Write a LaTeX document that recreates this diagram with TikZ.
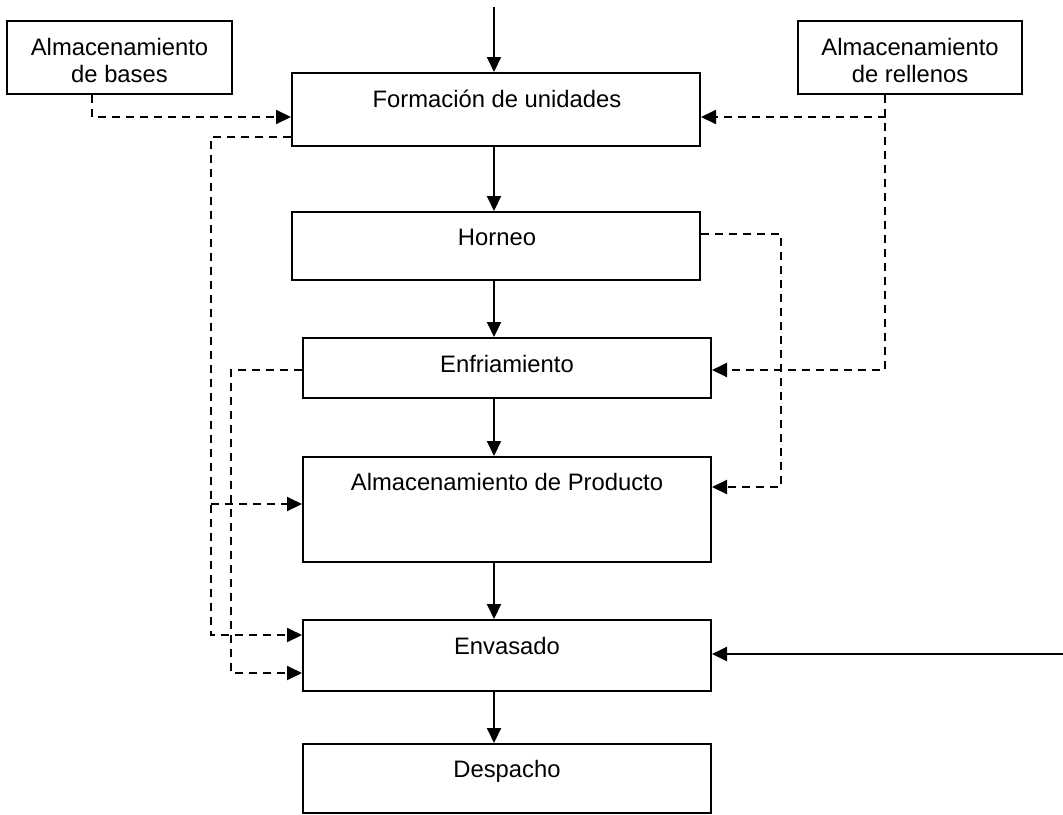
\documentclass[tikz,border=0pt]{standalone}
\usepackage{fontspec}
\setmainfont{Liberation Sans}
\usetikzlibrary{arrows.meta,calc}

\begin{document}
\begin{tikzpicture}[x=0.5pt,y=-0.5pt,
  box/.style={draw,line width=1pt,rectangle,inner sep=0pt},
  txt/.style={anchor=north,inner sep=0pt,align=center,
    font=\fontsize{11.9pt}{13.5pt}\selectfont},
  flow/.style={line width=1pt,-{Triangle[length=7.5pt,width=7pt]}},
  feed/.style={line width=1pt,dash pattern=on 4pt off 3pt,
    -{Triangle[length=7.5pt,width=7pt]}},
  feedline/.style={line width=1pt,dash pattern=on 4pt off 3pt}]

\useasboundingbox (0,0) rectangle (1063,814);

% process boxes
\node[box,minimum width=112.5pt,minimum height=36.5pt] (bases) at (119.5,57.5) {};
\node[box,minimum width=112pt,minimum height=36.5pt] (rell) at (910,57.5) {};
\node[box,minimum width=204pt,minimum height=36.5pt] (form) at (496,109.5) {};
\node[box,minimum width=204pt,minimum height=34pt] (horn) at (496,246) {};
\node[box,minimum width=204pt,minimum height=30pt] (enfr) at (507,368) {};
\node[box,minimum width=204pt,minimum height=52.5pt] (alm) at (507,509.5) {};
\node[box,minimum width=204pt,minimum height=35.5pt] (env) at (507,655.5) {};
\node[box,minimum width=204pt,minimum height=34.5pt] (desp) at (507,778.5) {};

% labels, set near the top of each box
\node[txt] (tbases) at (119.5,38) {Almacenamiento\\de bases};
\node[txt] (trell) at (910,38) {Almacenamiento\\de rellenos};
\node[txt] (tform) at (497,90) {Formación de unidades};
\node[txt] (thorn) at (497,229) {Horneo};
\node[txt] (tenfr) at (507,355) {Enfriamiento};
\node[txt] (talm) at (507,473) {Almacenamiento de Producto};
\node[txt] (tenv) at (507,637) {Envasado};
\node[txt] (tdesp) at (507,760) {Despacho};

% main line of the process
\coordinate (axis) at (494,7);
\coordinate (ein) at (1063,654);
\draw[flow] (axis) -- (form.north -| axis);
\draw[flow] (form.south -| axis) -- (horn.north -| axis);
\draw[flow] (horn.south -| axis) -- (enfr.north -| axis);
\draw[flow] (enfr.south -| axis) -- (alm.north -| axis);
\draw[flow] (alm.south -| axis) -- (env.north -| axis);
\draw[flow] (env.south -| axis) -- (desp.north -| axis);
\draw[flow] (ein) -- (env.east |- ein);

% bases feed
\draw[feed] ($(bases.south)+(-27.5,0)$) |- ($(form.west)+(0,7.5)$);

% fillings feed
\draw[feed] ($(rell.south)+(-25,0)$) |- ($(enfr.east)+(0,2)$);
\draw[feed] ($(form.east)+(185,7.5)$) -- ($(form.east)+(0,7.5)$);

% returns on the left side
\draw[feed] ($(form.west)+(0,27.5)$) -| ($(env.west)+(-91,-20.5)$) -- ($(env.west)+(0,-20.5)$);
\draw[feed] ($(alm.west)+(-91,-5.5)$) -- ($(alm.west)+(0,-5.5)$);
\draw[feed] ($(enfr.west)+(0,2)$) -| ($(env.west)+(-71,17.5)$) -- ($(env.west)+(0,17.5)$);

% baked goods to storage
\draw[feed] ($(horn.east)+(0,-12)$) -| ($(alm.east)+(69,-22.5)$) -- ($(alm.east)+(0,-22.5)$);

\end{tikzpicture}
\end{document}
